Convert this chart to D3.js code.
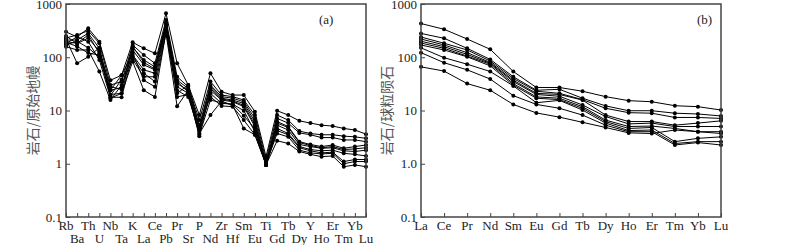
<!DOCTYPE html>
<html><head><meta charset="utf-8">
<script src="https://cdn.jsdelivr.net/npm/d3@7/dist/d3.min.js"></script>
<style>body{margin:0;background:#fff}svg{display:block}</style>
</head><body>
<svg id="c" width="800" height="245"></svg>
<script>
// ---- data ----
const spiderElems = ["Rb","Ba","Th","U","Nb","Ta","K","La","Ce","Pb","Pr","Sr","P","Nd","Zr","Hf","Sm","Eu","Ti","Gd","Tb","Dy","Y","Ho","Er","Tm","Yb","Lu"];
const spider1 = [300,240,350,196,37,46,191,147,119,668,77,30,8.2,50,22.5,19.5,19.5,9.5,1.36,9.9,8.2,6.4,5.8,5.3,5.1,4.6,4.3,3.6];
const spider2 = [230,262,315,183,30,35,170,110,77,500,43,28,6.6,35,19.5,18.2,15.7,8.2,1.17,8.2,6.6,4.1,3.7,3.5,3.5,3.3,3.2,3.0];
const spider3 = [210,211,282,147,24,27,154,89,66,450,37,26,5.3,30,18.2,17,14.6,7.1,1.02,7.1,5.8,3.8,3.5,3.1,3.1,2.8,2.8,2.6];
const spider4 = [196,183,262,119,20,21,137,72,58,400,32,24,4.3,28,17,15.7,13.6,6.2,0.95,6.2,5.0,2.6,2.3,2.1,2.25,1.95,2.1,2.25];
const spider5 = [180,243,196,89,17.7,17.7,110,58,50,380,28,21,3.3,24,15.7,14.6,11.8,5.0,0.95,5.3,4.3,2.3,2.1,1.95,2.0,1.75,1.7,1.8];
const spider6 = [158,137,137,54,15.7,30,91,43,43,350,24,18,4.0,21,13.6,13.2,9.9,4.0,0.95,4.6,3.7,2.1,1.85,1.75,1.8,1.57,1.5,1.4];
const spider7 = [220,77,102,150,17,21,83,24,18,300,21,30,5.0,18,12.2,11.8,6.6,3.5,1.0,3.7,3.2,1.8,1.6,1.53,1.57,1.0,1.1,1.1];
const spider8 = [170,200,150,100,24,46,120,37,28,280,12,24,3.7,8.2,15,12.5,4.6,3.5,0.95,2.7,2.4,1.7,1.5,1.36,1.4,0.88,0.95,0.88];
const spider9 = [250,180,230,130,28,25,160,80,60,420,35,22,4.8,26,16.5,15,12.5,5.5,1.0,5.8,4.8,2.5,2.2,2.0,2.1,1.85,1.9,2.0];
const spider10 = [190,160,120,110,19,38,100,50,35,320,18,20,3.5,15.7,14,13,8,4.5,0.95,4.2,3.5,2.0,1.75,1.6,1.65,1.1,1.2,1.2];
const spiderSeries = [spider1,spider2,spider3,spider4,spider5,spider6,spider7,spider8,spider9,spider10];

const reeElems = ["La","Ce","Pr","Nd","Sm","Eu","Gd","Tb","Dy","Ho","Er","Tm","Yb","Lu"];
const ree1 = [430,335,220,141,54,27,27,23,18.2,15.3,14.6,12.3,11.8,10.2];
const ree2 = [280,227,147,91,43,24,25,17,12.2,9.9,9.9,8.9,8.6,7.9];
const ree3 = [240,183,137,85,40,23,21,16,11,9.1,8.9,7.4,7.4,7.1];
const ree4 = [220,170,122,80,37,21,20,15.7,8.2,6.2,6.2,5.3,5.8,6.4];
const ree5 = [200,158,113,77,35,20,18.5,12.7,7.7,5.6,5.8,5.0,5.0,5.0];
const ree6 = [185,147,105,74,32,18,17,11.8,6.6,5.0,5.1,4.6,4.0,3.7];
const ree7 = [170,137,102,69,30,17,16,11,6.2,4.6,4.8,2.6,3.0,3.2];
const ree8 = [150,98,74,54,29,14,15.5,10.2,5.8,4.2,4.3,2.4,2.6,2.6];
const ree9 = [122,79,58,39,19,13,11,8.2,5.3,4.0,4.0,2.25,2.5,2.25];
const ree10 = [66,55,32,24,13,9,7.5,6,4.8,3.8,3.7,4.3,4.0,4.0];
const reeSeries = [ree1,ree2,ree3,ree4,ree5,ree6,ree7,ree8,ree9,ree10];

const spiderTicks = [0.1,1,10,100,1000];
const spiderTickLabels = ["0.1","1","10","100","1000"];
const reeTicks = [0.1,1,10,100,1000];
const reeTickLabels = ["0.1","1.0","10","100","1000"];

// ---- drawing ----
const svg = d3.select("#c");
const serif = "'Liberation Serif','Times New Roman',serif";

function panel(opt){
  const {x0,x1,y0,y1,elems,series,ticks,tickLabels,ylabel,ylabelX,tag,tagX,twoRow} = opt;
  const x = d3.scalePoint().domain(elems).range([x0,x1]);
  const y = d3.scaleLog().domain([0.1,1000]).range([y1,y0]);
  const g = svg.append("g");

  // y axis labels (ticks inside)
  const ya = d3.axisLeft(y).tickValues(ticks).tickSize(-4).tickPadding(4)
     .tickFormat((d,i)=>tickLabels[i]);
  const yg = g.append("g").attr("transform",`translate(${x0},0)`).call(ya);
  yg.select(".domain").remove();
  yg.selectAll("line").attr("stroke","#444");
  yg.selectAll("text").attr("font-family",serif).attr("font-size",13).attr("fill","#222");

  // x axis ticks inside
  const xa = d3.axisBottom(x).tickSize(-4).tickFormat("");
  const xg = g.append("g").attr("transform",`translate(0,${y1})`).call(xa);
  xg.select(".domain").remove();
  xg.selectAll("line").attr("stroke","#444");

  // x labels
  g.selectAll("text.xl").data(elems).enter().append("text")
    .attr("class","xl")
    .attr("x",d=>x(d))
    .attr("y",(d,i)=> twoRow ? (i%2===0 ? 230 : 243) : 230)
    .attr("text-anchor","middle")
    .attr("font-family",serif).attr("font-size",13).attr("fill","#222")
    .text(d=>d);

  // lines
  const line = d3.line().x((d,i)=>x(elems[i])).y(d=>y(d));
  series.forEach(s=>{
    g.append("path").attr("d",line(s)).attr("fill","none").attr("stroke","#000").attr("stroke-width",1);
    g.selectAll(null).data(s).enter().append("circle")
      .attr("cx",(d,i)=>x(elems[i])).attr("cy",d=>y(d)).attr("r",2).attr("fill","#000");
  });

  // frame
  g.append("rect").attr("x",x0).attr("y",y0).attr("width",x1-x0).attr("height",y1-y0)
    .attr("fill","none").attr("stroke","#444").attr("stroke-width",1.5);

  // tag
  g.append("text").attr("x",tagX).attr("y",24).attr("font-family",serif).attr("font-size",13)
    .attr("fill","#222").text(tag);

  // y label
  g.append("text").attr("transform",`translate(${ylabelX},${(y0+y1)/2}) rotate(-90)`)
    .attr("text-anchor","middle").attr("font-family","'Noto Sans CJK SC',sans-serif")
    .attr("font-size",14).attr("fill","#555").text(ylabel);
}

panel({x0:66,x1:366,y0:4,y1:217,elems:spiderElems,series:spiderSeries,ticks:spiderTicks,
  tickLabels:spiderTickLabels,ylabel:"岩石/原始地幔",ylabelX:38,tag:"(a)",tagX:319,twoRow:true});
panel({x0:421,x1:721,y0:4,y1:217,elems:reeElems,series:reeSeries,ticks:reeTicks,
  tickLabels:reeTickLabels,ylabel:"岩石/球粒陨石",ylabelX:392,tag:"(b)",tagX:697,twoRow:false});
</script>
</body></html>
